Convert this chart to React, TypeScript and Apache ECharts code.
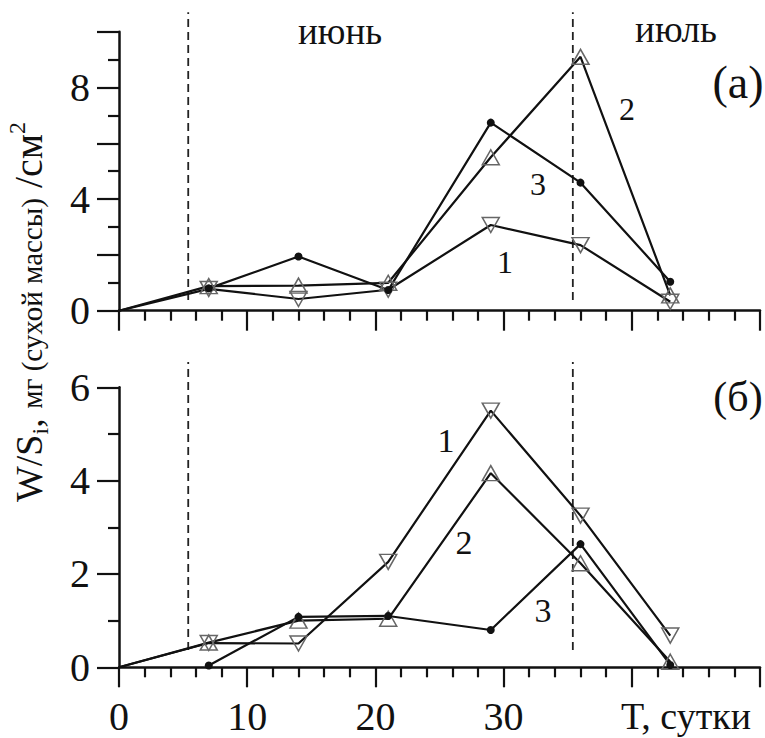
import React, { useEffect, useRef } from "react";
import * as echarts from "echarts";

// ---- data ----
const days = [7, 14, 21, 29, 36, 43];
const origin = [0, 0];
// panel (а)
const topS1 = [0.78, 0.42, 0.75, 3.07, 2.35, 0.32]; // ▽ curve 1
const topS2 = [0.88, 0.9, 1.0, 5.5, 9.1, 0.55]; // △ curve 2
const topS3 = [0.8, 1.94, 0.74, 6.74, 4.59, 1.04]; // ● curve 3
// panel (б)
const botS1 = [0.52, 0.51, 2.26, 5.5, 3.25, 0.68];
const botS2 = [0.53, 1.0, 1.04, 4.16, 2.23, 0.12];
const botS3 = [0.04, 1.08, 1.1, 0.8, 2.64, 0.05];
// month boundaries (days)
const monthBounds = [5.4, 35.4];
const topDashRange = [0.38, 10.7];
const botDashRange = [0.37, 6.54];
const xLabelsShown = [0, 10, 20, 30];
const topYLabelsShown = [0, 4, 8];

const FONT = "Liberation Serif";
const INK = "#111";

function pts(vals: number[], withOrigin: boolean) {
  const d: any[] = days.map((x, i) => [x, vals[i]]);
  if (withOrigin) d.unshift({ value: origin, symbol: "none" });
  return d;
}

function triSeries(g: number, vals: number[], down: boolean, withOrigin: boolean) {
  return {
    type: "line",
    xAxisIndex: g,
    yAxisIndex: g,
    data: pts(vals, withOrigin),
    symbol: "triangle",
    symbolSize: [17, 15],
    symbolRotate: down ? 180 : 0,
    showSymbol: true,
    lineStyle: { color: INK, width: 2.2 },
    itemStyle: { color: "rgba(0,0,0,0)", borderColor: "#666", borderWidth: 1.5 },
    silent: true,
  };
}

function dotSeries(g: number, vals: number[]) {
  return {
    type: "line",
    xAxisIndex: g,
    yAxisIndex: g,
    data: pts(vals, false),
    symbol: "circle",
    symbolSize: 8,
    showSymbol: true,
    lineStyle: { color: INK, width: 2.2 },
    itemStyle: { color: INK },
    silent: true,
  };
}

function dashSeries(g: number, x: number, range: number[]) {
  return {
    type: "line",
    xAxisIndex: g,
    yAxisIndex: g,
    data: [
      [x, range[0]],
      [x, range[1]],
    ],
    symbol: "none",
    clip: false,
    lineStyle: { color: "#222", width: 1.8, type: [8, 5] },
    silent: true,
  };
}

function xAxis(g: number) {
  return {
    type: "value",
    gridIndex: g,
    min: 0,
    max: 50,
    interval: 10,
    axisLine: { show: true, onZero: false, lineStyle: { color: INK, width: 2.5 } },
    axisTick: { show: true, length: 20, lineStyle: { color: INK, width: 2.2 } },
    minorTick: { show: true, splitNumber: 5, length: 10, lineStyle: { color: INK, width: 2.2 } },
    splitLine: { show: false },
    minorSplitLine: { show: false },
    axisLabel: {
      show: g === 1,
      margin: 29,
      fontSize: 40,
      fontFamily: FONT,
      color: INK,
      formatter: (v: number) => (xLabelsShown.includes(v) ? String(v) : ""),
    },
  };
}

function yAxis(g: number, max: number, labels: number[] | null) {
  return {
    type: "value",
    gridIndex: g,
    min: 0,
    max,
    interval: 2,
    axisLine: { show: true, onZero: false, lineStyle: { color: INK, width: 2.5 } },
    axisTick: { show: true, length: 22, lineStyle: { color: INK, width: 2.2 } },
    minorTick: { show: true, splitNumber: 2, length: 11, lineStyle: { color: INK, width: 2.2 } },
    splitLine: { show: false },
    minorSplitLine: { show: false },
    axisLabel: {
      margin: 29,
      fontSize: 40,
      fontFamily: FONT,
      color: INK,
      formatter: (v: number) => (labels === null || labels.includes(v) ? String(v) : ""),
    },
  };
}

function txt(text: string, x: number, y: number, size: number) {
  return {
    type: "text",
    x,
    y,
    silent: true,
    style: {
      text,
      fontSize: size,
      fontFamily: FONT,
      fill: INK,
      align: "center",
      verticalAlign: "middle",
      textAlign: "center",
      textVerticalAlign: "middle",
    },
  };
}

// y-axis title pieces: [text, fontSize, baseline shift (down +)]
const titlePieces: [string, number, number][] = [
  ["W/S", 38, 0],
  ["i", 24, 6],
  [", ", 38, 0],
  ["мг (сухой массы)", 29, 0],
  [" /см", 40, 0],
  ["2", 24, -17],
];

function buildTitle() {
  const ctx = document.createElement("canvas").getContext("2d")!;
  const widths = titlePieces.map(([t, fs]) => {
    ctx.font = `${fs}px ${FONT}`;
    return ctx.measureText(t).width;
  });
  const total = widths.reduce((a, b) => a + b, 0);
  let cx = -total / 2;
  const children = titlePieces.map(([t, fs, dy], i) => {
    const el = {
      type: "text",
      x: cx,
      y: dy - 0.3375 * fs,
      silent: true,
      style: {
        text: t,
        fontSize: fs,
        fontFamily: FONT,
        fill: INK,
        align: "left",
        verticalAlign: "middle",
        textAlign: "left",
        textVerticalAlign: "middle",
      },
    };
    cx += widths[i];
    return el;
  });
  return {
    type: "group",
    x: 42,
    y: 312,
    rotation: Math.PI / 2,
    silent: true,
    children,
  };
}

export default function App() {
  const ref = useRef<HTMLDivElement>(null);
  useEffect(() => {
    if (!ref.current) return;
    const chart = echarts.init(ref.current, null, { renderer: "svg" });
    chart.setOption({
      animation: false,
      backgroundColor: "#fff",
      textStyle: { fontFamily: FONT },
      grid: [
        { left: 119, top: 31.7, width: 641, height: 279 },
        { left: 119, top: 387.3, width: 641, height: 280 },
      ],
      xAxis: [xAxis(0), xAxis(1)],
      yAxis: [yAxis(0, 10, topYLabelsShown), yAxis(1, 6, null)],
      series: [
        dashSeries(0, monthBounds[0], topDashRange),
        dashSeries(0, monthBounds[1], topDashRange),
        dashSeries(1, monthBounds[0], botDashRange),
        dashSeries(1, monthBounds[1], botDashRange),
        triSeries(0, topS1, true, true),
        triSeries(0, topS2, false, true),
        dotSeries(0, topS3),
        triSeries(1, botS1, true, true),
        triSeries(1, botS2, false, true),
        dotSeries(1, botS3),
      ],
      graphic: [
        txt("июнь", 340, 31, 37),
        txt("июль", 676, 29, 37),
        txt("(а)", 738, 82, 46),
        txt("(б)", 738, 397, 42),
        txt("2", 627, 109, 32),
        txt("3", 538, 184, 32),
        txt("1", 505, 262, 32),
        txt("1", 446, 440, 34),
        txt("2", 464, 542, 34),
        txt("3", 543, 610, 34),
        txt("T, сутки", 686, 716, 38),
        buildTitle(),
      ],
    });
    return () => chart.dispose();
  }, []);
  return (
    <div
      ref={ref}
      style={{ position: "fixed", left: 0, top: 0, width: 765, height: 738, background: "#fff" }}
    />
  );
}
